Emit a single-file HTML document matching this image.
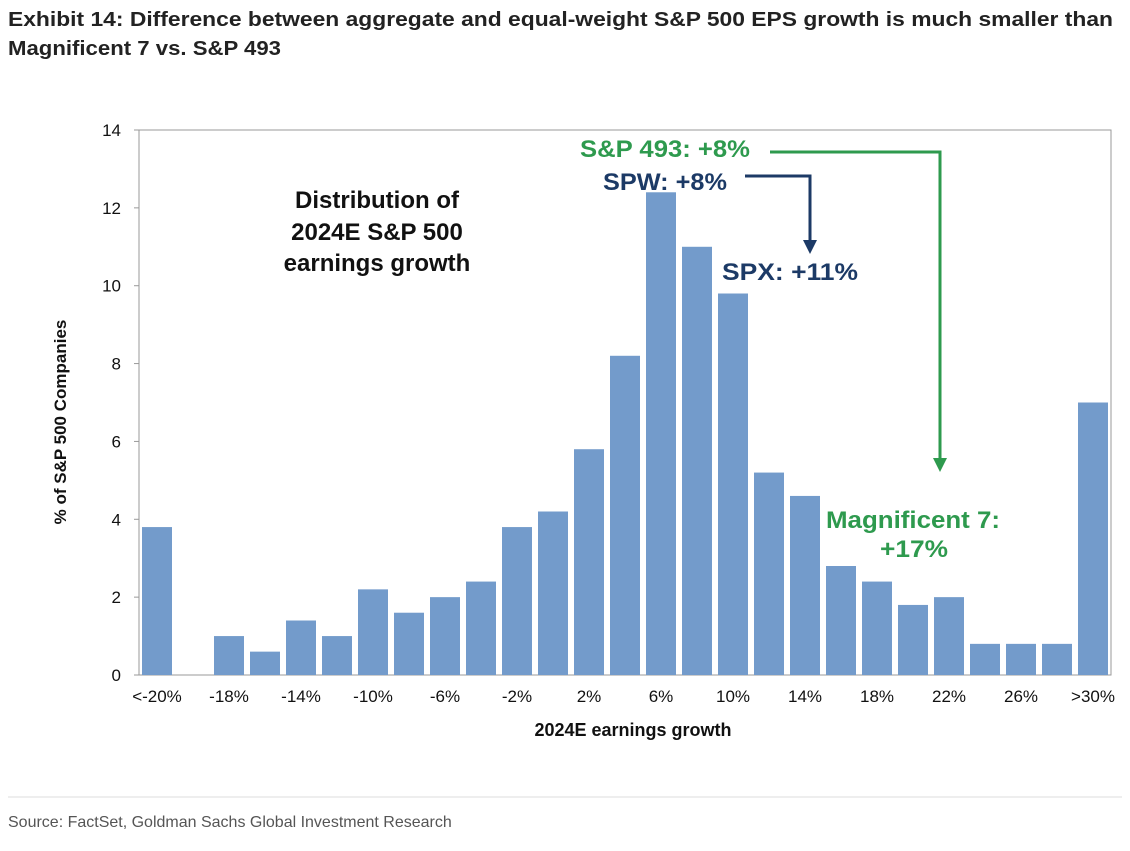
<!DOCTYPE html>
<html><head><meta charset="utf-8"><style>
html,body{margin:0;padding:0;background:#fff;}
svg{display:block;font-family:"Liberation Sans",sans-serif;}
</style></head><body>
<svg id="chart" width="1130" height="851" viewBox="0 0 1130 851">
<text x="8" y="26" font-size="20" font-weight="bold" fill="#222" textLength="1105" lengthAdjust="spacingAndGlyphs">Exhibit 14: Difference between aggregate and equal-weight S&amp;P 500 EPS growth is much smaller than</text>
<text x="8" y="55" font-size="20" font-weight="bold" fill="#222" textLength="273" lengthAdjust="spacingAndGlyphs">Magnificent 7 vs. S&amp;P 493</text>
<rect x="139" y="130" width="972" height="545" fill="none" stroke="#999" stroke-width="1"/>
<g id="yaxis"></g><g id="bars"></g><g id="xaxis"></g>
<text transform="translate(66,422) rotate(-90)" text-anchor="middle" font-size="17" font-weight="bold" fill="#111">% of S&amp;P 500 Companies</text>
<text x="633" y="736" text-anchor="middle" font-size="18" font-weight="bold" fill="#111">2024E earnings growth</text>
<g font-size="24" font-weight="bold" fill="#111" text-anchor="middle">
<text x="377" y="208">Distribution of</text><text x="377" y="240">2024E S&amp;P 500</text><text x="377" y="271">earnings growth</text></g>
<text x="580" y="157" font-size="24" font-weight="bold" fill="#2e9a4e" textLength="170" lengthAdjust="spacingAndGlyphs">S&amp;P 493: +8%</text>
<text x="603" y="190" font-size="24" font-weight="bold" fill="#1c3a66" textLength="124" lengthAdjust="spacingAndGlyphs">SPW: +8%</text>
<text x="722" y="280" font-size="24" font-weight="bold" fill="#1c3a66" textLength="136" lengthAdjust="spacingAndGlyphs">SPX: +11%</text>
<text x="826" y="528" font-size="24" font-weight="bold" fill="#2e9a4e" textLength="174" lengthAdjust="spacingAndGlyphs">Magnificent 7:</text>
<text x="880" y="557" font-size="24" font-weight="bold" fill="#2e9a4e" textLength="68" lengthAdjust="spacingAndGlyphs">+17%</text>
<polyline points="770,152 940,152 940,462" fill="none" stroke="#2e9a4e" stroke-width="3"/>
<polygon points="933,458 947,458 940,472" fill="#2e9a4e"/>
<polyline points="745,176 810,176 810,244" fill="none" stroke="#1c3a66" stroke-width="3"/>
<polygon points="803,240 817,240 810,254" fill="#1c3a66"/>
<line x1="8" y1="797" x2="1122" y2="797" stroke="#ddd" stroke-width="1"/>
<text x="8" y="827" font-size="16" fill="#555">Source: FactSet, Goldman Sachs Global Investment Research</text>
</svg>
<script>
const categories=["<-20%","-20%","-18%","-16%","-14%","-12%","-10%","-8%","-6%","-4%","-2%","0%","2%","4%","6%","8%","10%","12%","14%","16%","18%","20%","22%","24%","26%","28%",">30%"];
const values=[3.8,0,1.0,0.6,1.4,1.0,2.2,1.6,2.0,2.4,3.8,4.2,5.8,8.2,12.4,11.0,9.8,5.2,4.6,2.8,2.4,1.8,2.0,0.8,0.8,0.8,7.0];
const yTicks=[0,2,4,6,8,10,12,14];
const shownLabels=["<-20%","-18%","-14%","-10%","-6%","-2%","2%","6%","10%","14%","18%","22%","26%",">30%"];
const NS="http://www.w3.org/2000/svg";
const x0=139,pw=972,y0=675,ph=545,ymax=14;
const step=pw/categories.length;
const y=v=>y0-v/ymax*ph;
const xc=i=>x0+step*(i+0.5);
const mk=(t,a,p)=>{const e=document.createElementNS(NS,t);for(const k in a)e.setAttribute(k,a[k]);p.appendChild(e);return e;};
const gb=document.getElementById('bars'),gx=document.getElementById('xaxis'),gy=document.getElementById('yaxis');
yTicks.forEach(t=>{
 const tx=mk('text',{x:121,y:y(t)+6,'text-anchor':'end','font-size':17,fill:'#111'},gy);
 tx.textContent=t;
 
 
 const tk=mk('line',{x1:134,x2:139,y1:y(t),y2:y(t),stroke:'#999'},gy);
 
 
});
values.forEach((v,i)=>{
 const r=mk('rect',{x:xc(i)-15,y:y(v),width:30,height:y0-y(v),fill:'#739bcb'},gb);
 
 
 if(shownLabels.includes(categories[i])){
  const t=mk('text',{x:xc(i),y:702,'text-anchor':'middle','font-size':17,fill:'#111'},gx);
  t.textContent=categories[i];
  
  
 }
});
</script>
</body></html>
